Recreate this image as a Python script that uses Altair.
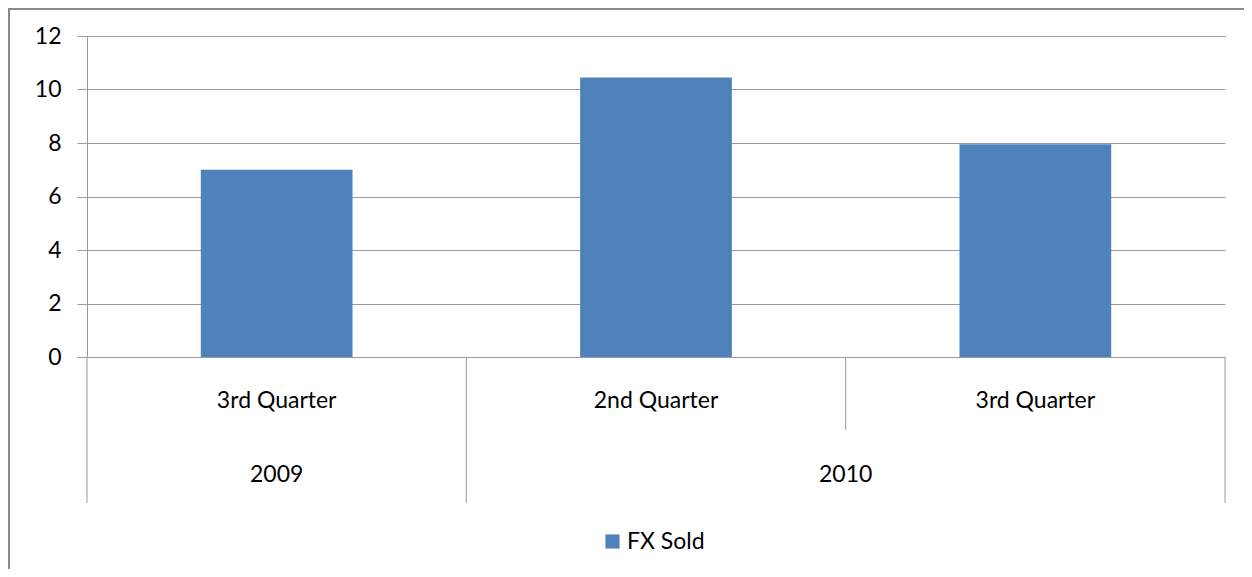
import altair as alt
import pandas as pd

# ---- data ----
quarters = ["3rd Quarter", "2nd Quarter", "3rd Quarter"]
years = ["2009", "2010", "2010"]
fx_sold = [7.0, 10.45, 7.95]
series_name = "FX Sold"
y_ticks = [0, 2, 4, 6, 8, 10, 12]

FONT = "Lato"
FS = 23
GRID = "#9a9a9a"
BAR = "#4f81bd"

df = pd.DataFrame({
    "key": [f"{y}-{i}" for i, y in enumerate(years)],
    "quarter": quarters,
    "year": years,
    "value": fx_sold,
    "series": [series_name] * len(fx_sold),
})

# boundaries of the hierarchical category axis
bounds = []
for i, y in enumerate(years):
    bounds.append({"b": i, "full": (i == 0 or years[i - 1] != y)})
bounds.append({"b": len(years), "full": True})
bdf = pd.DataFrame(bounds)

# year group centres
ydf = pd.DataFrame({"year": years, "c": [i + 0.5 for i in range(len(years))]})
ydf = ydf.groupby("year", as_index=False)["c"].mean()

n = len(years)
qscale = alt.Scale(domain=[0, n], nice=False, zero=False)
xband = alt.X("key:N", sort=None, scale=alt.Scale(paddingInner=0, paddingOuter=0), axis=None)

base = alt.Chart(df)

bars = base.mark_bar(width=alt.RelativeBandSize(0.4), color=BAR).encode(
    x=xband,
    y=alt.Y("value:Q",
            scale=alt.Scale(domain=[0, 12], nice=False),
            axis=alt.Axis(values=y_ticks, title=None, grid=True, gridColor=GRID,
                          domainColor=GRID, tickColor=GRID, tickSize=10,
                          labelFontSize=FS, labelFont=FONT, labelColor="#000000",
                          labelPadding=16)),
    color=alt.Color("series:N",
                    scale=alt.Scale(range=[BAR]),
                    legend=alt.Legend(title=None, orient="none", legendX=514, legendY=494,
                                      symbolType="square", symbolSize=200,
                                      symbolStrokeWidth=0, labelFont=FONT,
                                      labelFontSize=FS, labelColor="#000000",
                                      labelOffset=3, padding=0)),
)

qlabels = base.mark_text(font=FONT, fontSize=FS, color="#000000",
                         baseline="alphabetic", align="center").encode(
    x=xband,
    y=alt.value(372),
    text="quarter:N",
)

full_rules = alt.Chart(bdf).transform_filter("datum.full").mark_rule(color=GRID).encode(
    x=alt.X("b:Q", scale=qscale, axis=None),
    y=alt.value(321),
    y2=alt.value(467),
)
short_rules = alt.Chart(bdf).transform_filter("!datum.full").mark_rule(color=GRID).encode(
    x=alt.X("b:Q", scale=qscale, axis=None),
    y=alt.value(321),
    y2=alt.value(394),
)
ylabels = alt.Chart(ydf).mark_text(font=FONT, fontSize=FS, color="#000000",
                                   baseline="alphabetic", align="center").encode(
    x=alt.X("c:Q", scale=qscale, axis=None),
    y=alt.value(446),
    text="year:N",
)

frame_top = alt.Chart(df).mark_rule(color="#8a8a8a", strokeWidth=2).encode(
    x=alt.value(-79), x2=alt.value(1160), y=alt.value(-27)
)
frame_left = alt.Chart(df).mark_rule(color="#8a8a8a", strokeWidth=2).encode(
    x=alt.value(-78), y=alt.value(-28), y2=alt.value(540)
)

band_layer = alt.layer(bars, qlabels)
quant_layer = alt.layer(full_rules, short_rules, ylabels)

chart = alt.layer(band_layer, quant_layer, frame_top, frame_left).resolve_scale(
    x="independent"
).properties(
    width=1138,
    height=321,
    autosize=alt.AutoSizeParams(type="none"),
    padding={"left": 79, "top": 28, "right": 19, "bottom": 212},
).configure_view(stroke=None)

chart.save("out.html", embed_options={"renderer": "svg", "actions": False})
